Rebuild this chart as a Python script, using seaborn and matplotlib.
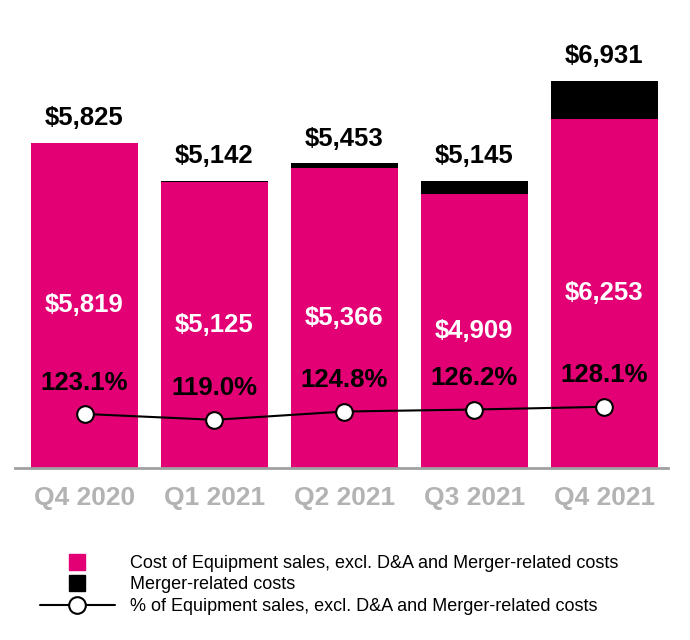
import numpy as np
import matplotlib
matplotlib.use("Agg")
import matplotlib.pyplot as plt
import seaborn as sns
from matplotlib.lines import Line2D

sns.set_style("white")
plt.rcParams['font.family'] = ['Liberation Sans', 'DejaVu Sans']
plt.rcParams['text.color'] = 'black'

quarters = ['Q4 2020', 'Q1 2021', 'Q2 2021', 'Q3 2021', 'Q4 2021']
equipment_cost = [5819, 5125, 5366, 4909, 6253]
total_cost = [5825, 5142, 5453, 5145, 6931]
pct_of_sales = [123.1, 119.0, 124.8, 126.2, 128.1]

magenta = '#E20074'
pos = np.arange(len(quarters))

fig = plt.figure(figsize=(6.9, 6.4), dpi=100)
ax = fig.add_axes([15 / 690, 0.269, 653 / 690, 0.6106])

# black = merger-related on top, magenta drawn over it
sns.barplot(x=quarters, y=total_cost, color='black', width=0.82, saturation=1, linewidth=0, ax=ax)
sns.barplot(x=quarters, y=equipment_cost, color=magenta, width=0.82, saturation=1, linewidth=0, ax=ax)

for i in pos:
    ax.annotate(f"${total_cost[i]:,}", (i, total_cost[i]), xytext=(0, 9), textcoords='offset points',
                ha='center', va='bottom', fontsize=18.5, fontweight='bold', color='black')
    ax.text(i, equipment_cost[i] / 2, f"${equipment_cost[i]:,}", ha='center', va='center',
            fontsize=18.5, fontweight='bold', color='white')

ax.set_ylim(0, 7000)
ax.set_xlim(-0.535, 4.49)
ax.set_yticks([])
ax.set_ylabel('')
for s in ['top', 'left', 'right']:
    ax.spines[s].set_visible(False)
ax.spines['bottom'].set_color('#a0a0a0')
ax.spines['bottom'].set_linewidth(2)
ax.tick_params(axis='x', length=0, pad=13, labelsize=19, labelcolor='#b3b3b3')
for lbl in ax.get_xticklabels():
    lbl.set_fontweight('bold')

ax2 = ax.twinx()
sns.lineplot(x=pos, y=pct_of_sales, ax=ax2, color='black', linewidth=1.5, marker='o',
             markersize=12, markerfacecolor='white', markeredgecolor='black', markeredgewidth=1.5)
for i in pos:
    ax2.annotate(f"{pct_of_sales[i]:.1f}%", (i, pct_of_sales[i]), xytext=(0, 14), textcoords='offset points',
                 ha='center', va='bottom', fontsize=18.5, fontweight='bold', color='black')
ax2.set_ylim(85.4, 358.8)
ax2.set_xlim(-0.535, 4.49)
ax2.set_yticks([])
ax2.set_ylabel('')
for s in ax2.spines.values():
    s.set_visible(False)

handles = [
    Line2D([], [], linestyle='none', marker='s', markersize=12, markerfacecolor=magenta, markeredgecolor=magenta),
    Line2D([], [], linestyle='none', marker='s', markersize=12, markerfacecolor='black', markeredgecolor='black'),
    Line2D([], [], color='black', linewidth=1.5, marker='o', markersize=12,
           markerfacecolor='white', markeredgecolor='black', markeredgewidth=1.5),
]
labels = ['Cost of Equipment sales, excl. D&A and Merger-related costs',
          'Merger-related costs',
          '% of Equipment sales, excl. D&A and Merger-related costs']
fig.legend(handles, labels, loc='upper left', bbox_to_anchor=(40 / 690, 0.133), frameon=False,
           fontsize=13, handlelength=4.15, handletextpad=0.83, labelspacing=0.25, borderpad=0,
           borderaxespad=0)

fig.savefig('out.png', dpi=100)
